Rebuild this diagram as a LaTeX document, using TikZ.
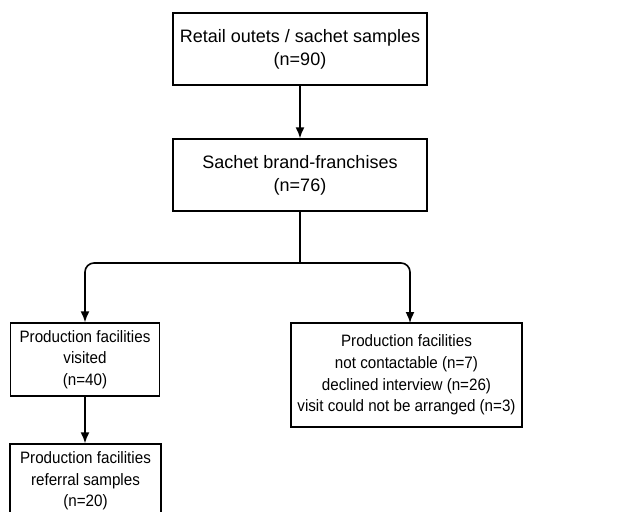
\documentclass[tikz,border=0pt]{standalone}
\usepackage{fontspec}
\setmainfont{Liberation Sans}
\newfontfamily\narrowfont{Liberation Sans}[FakeStretch=0.92]
\usetikzlibrary{arrows.meta}
\begin{document}
\begin{tikzpicture}[x=1pt,y=-1pt,
  topbox/.style={draw=black, line width=1.4pt, align=center, inner sep=0pt,
    minimum width=254pt, minimum height=72pt,
    font=\fontsize{18}{23}\selectfont},
  lowbox/.style={draw=black, line width=1.4pt, align=center, inner sep=0pt,
    font=\narrowfont\fontsize{16.5}{21.7}\selectfont},
  arr/.style={line width=1.6pt, -{Latex[length=11pt,width=9pt]}},
  conn/.style={line width=1.6pt}]
\useasboundingbox (0,0) rectangle (625,512);
\node[topbox] (b1) at (300,49) {Retail outets / sachet samples\\(n=90)};
\node[topbox] (b2) at (300,175) {Sachet brand-franchises\\(n=76)};
\node[lowbox, minimum width=149pt, minimum height=73pt] (b3) at (85,359.5)
  {Production facilities\\visited\\(n=40)};
\node[lowbox, minimum width=231pt, minimum height=104pt] (b4) at (406.5,375)
  {Production facilities\\not contactable (n=7)\\declined interview (n=26)\\visit could not be arranged (n=3)};
\node[lowbox, minimum width=151pt, minimum height=74pt] (b5) at (85.5,481)
  {Production facilities\\referral samples\\(n=20)};
\coordinate (split) at (300,263);
\coordinate (rdrop) at (410,323);
\draw[arr] (b1) -- (b2);
\draw[conn] (b2.south) -- (split);
\draw[arr, rounded corners=9pt] (split) -| (b3.north);
\draw[arr, rounded corners=9pt] (split) -| (rdrop);
\draw[arr] (b3.south) -- (b3.south |- b5.north);
\end{tikzpicture}
\end{document}
